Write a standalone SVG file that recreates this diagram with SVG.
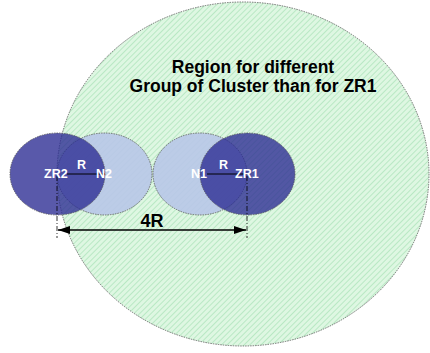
<svg xmlns="http://www.w3.org/2000/svg" width="430" height="353" viewBox="0 0 430 353">
<defs>
<pattern id="hatch" width="4" height="4" patternUnits="userSpaceOnUse" patternTransform="rotate(45)">
<rect width="4" height="4" fill="#def7e2"/>
<line x1="0" y1="0" x2="0" y2="4" stroke="#ade3ba" stroke-width="1.5"/>
</pattern>
<marker id="ah" viewBox="0 0 12 8" refX="12" refY="4" markerWidth="12" markerHeight="8" markerUnits="userSpaceOnUse" orient="auto-start-reverse">
<path d="M0,0 L12,4 L0,8 Z" fill="#000"/>
</marker>
</defs>
<style>
.edge{stroke:#555;stroke-width:0.8;stroke-dasharray:1.5 1}
.light{fill:#b8c6e8;fill-opacity:0.9}
.dark{fill:#2a2a92;fill-opacity:0.78}
.lbl{font-family:"Liberation Sans",Arial,sans-serif;font-weight:bold;fill:#fff;font-size:12.5px}
.title{font-family:"Liberation Sans",Arial,sans-serif;font-weight:bold;fill:#000;font-size:17.5px;text-anchor:middle}
</style>
<rect width="430" height="353" fill="#fff"/>
<g id="region">
<ellipse cx="243" cy="174" rx="186" ry="172" fill="url(#hatch)" class="edge"/>
<text class="title" x="253" y="73">Region for different</text>
<text class="title" x="253" y="92">Group of Cluster than for ZR1</text>
</g>
<g id="n2"><ellipse cx="104.5" cy="174" rx="47.5" ry="41" class="light edge"/></g>
<g id="n1"><ellipse cx="200" cy="174" rx="47" ry="41" class="light edge"/></g>
<g id="zr2"><ellipse cx="57.5" cy="174" rx="47.5" ry="41" class="dark edge"/></g>
<g id="zr1"><ellipse cx="247.5" cy="174" rx="47.5" ry="41" class="dark edge"/></g>
<g id="connectors">
<line x1="67" y1="174" x2="105" y2="174" stroke="#000" stroke-width="1"/>
<line x1="207" y1="174" x2="247" y2="174" stroke="#000" stroke-width="1"/>
<line x1="57" y1="176" x2="57" y2="238" stroke="#000" stroke-width="0.8" stroke-dasharray="5 2 1 2"/>
<line x1="247" y1="176" x2="247" y2="238" stroke="#000" stroke-width="0.8" stroke-dasharray="5 2 1 2"/>
<line x1="58" y1="230" x2="246" y2="230" stroke="#000" stroke-width="1.5" marker-start="url(#ah)" marker-end="url(#ah)"/>
</g>
<g id="labels">
<text class="lbl" x="44" y="178">ZR2</text>
<text class="lbl" x="77" y="169" font-size="10.5">R</text>
<text class="lbl" x="96" y="178">N2</text>
<text class="lbl" x="191" y="178">N1</text>
<text class="lbl" x="219" y="169" font-size="10.5">R</text>
<text class="lbl" x="235" y="178">ZR1</text>
<text x="152" y="227" font-family="Liberation Sans,Arial,sans-serif" font-weight="bold" font-size="18" fill="#000" text-anchor="middle">4R</text>
</g>
</svg>
